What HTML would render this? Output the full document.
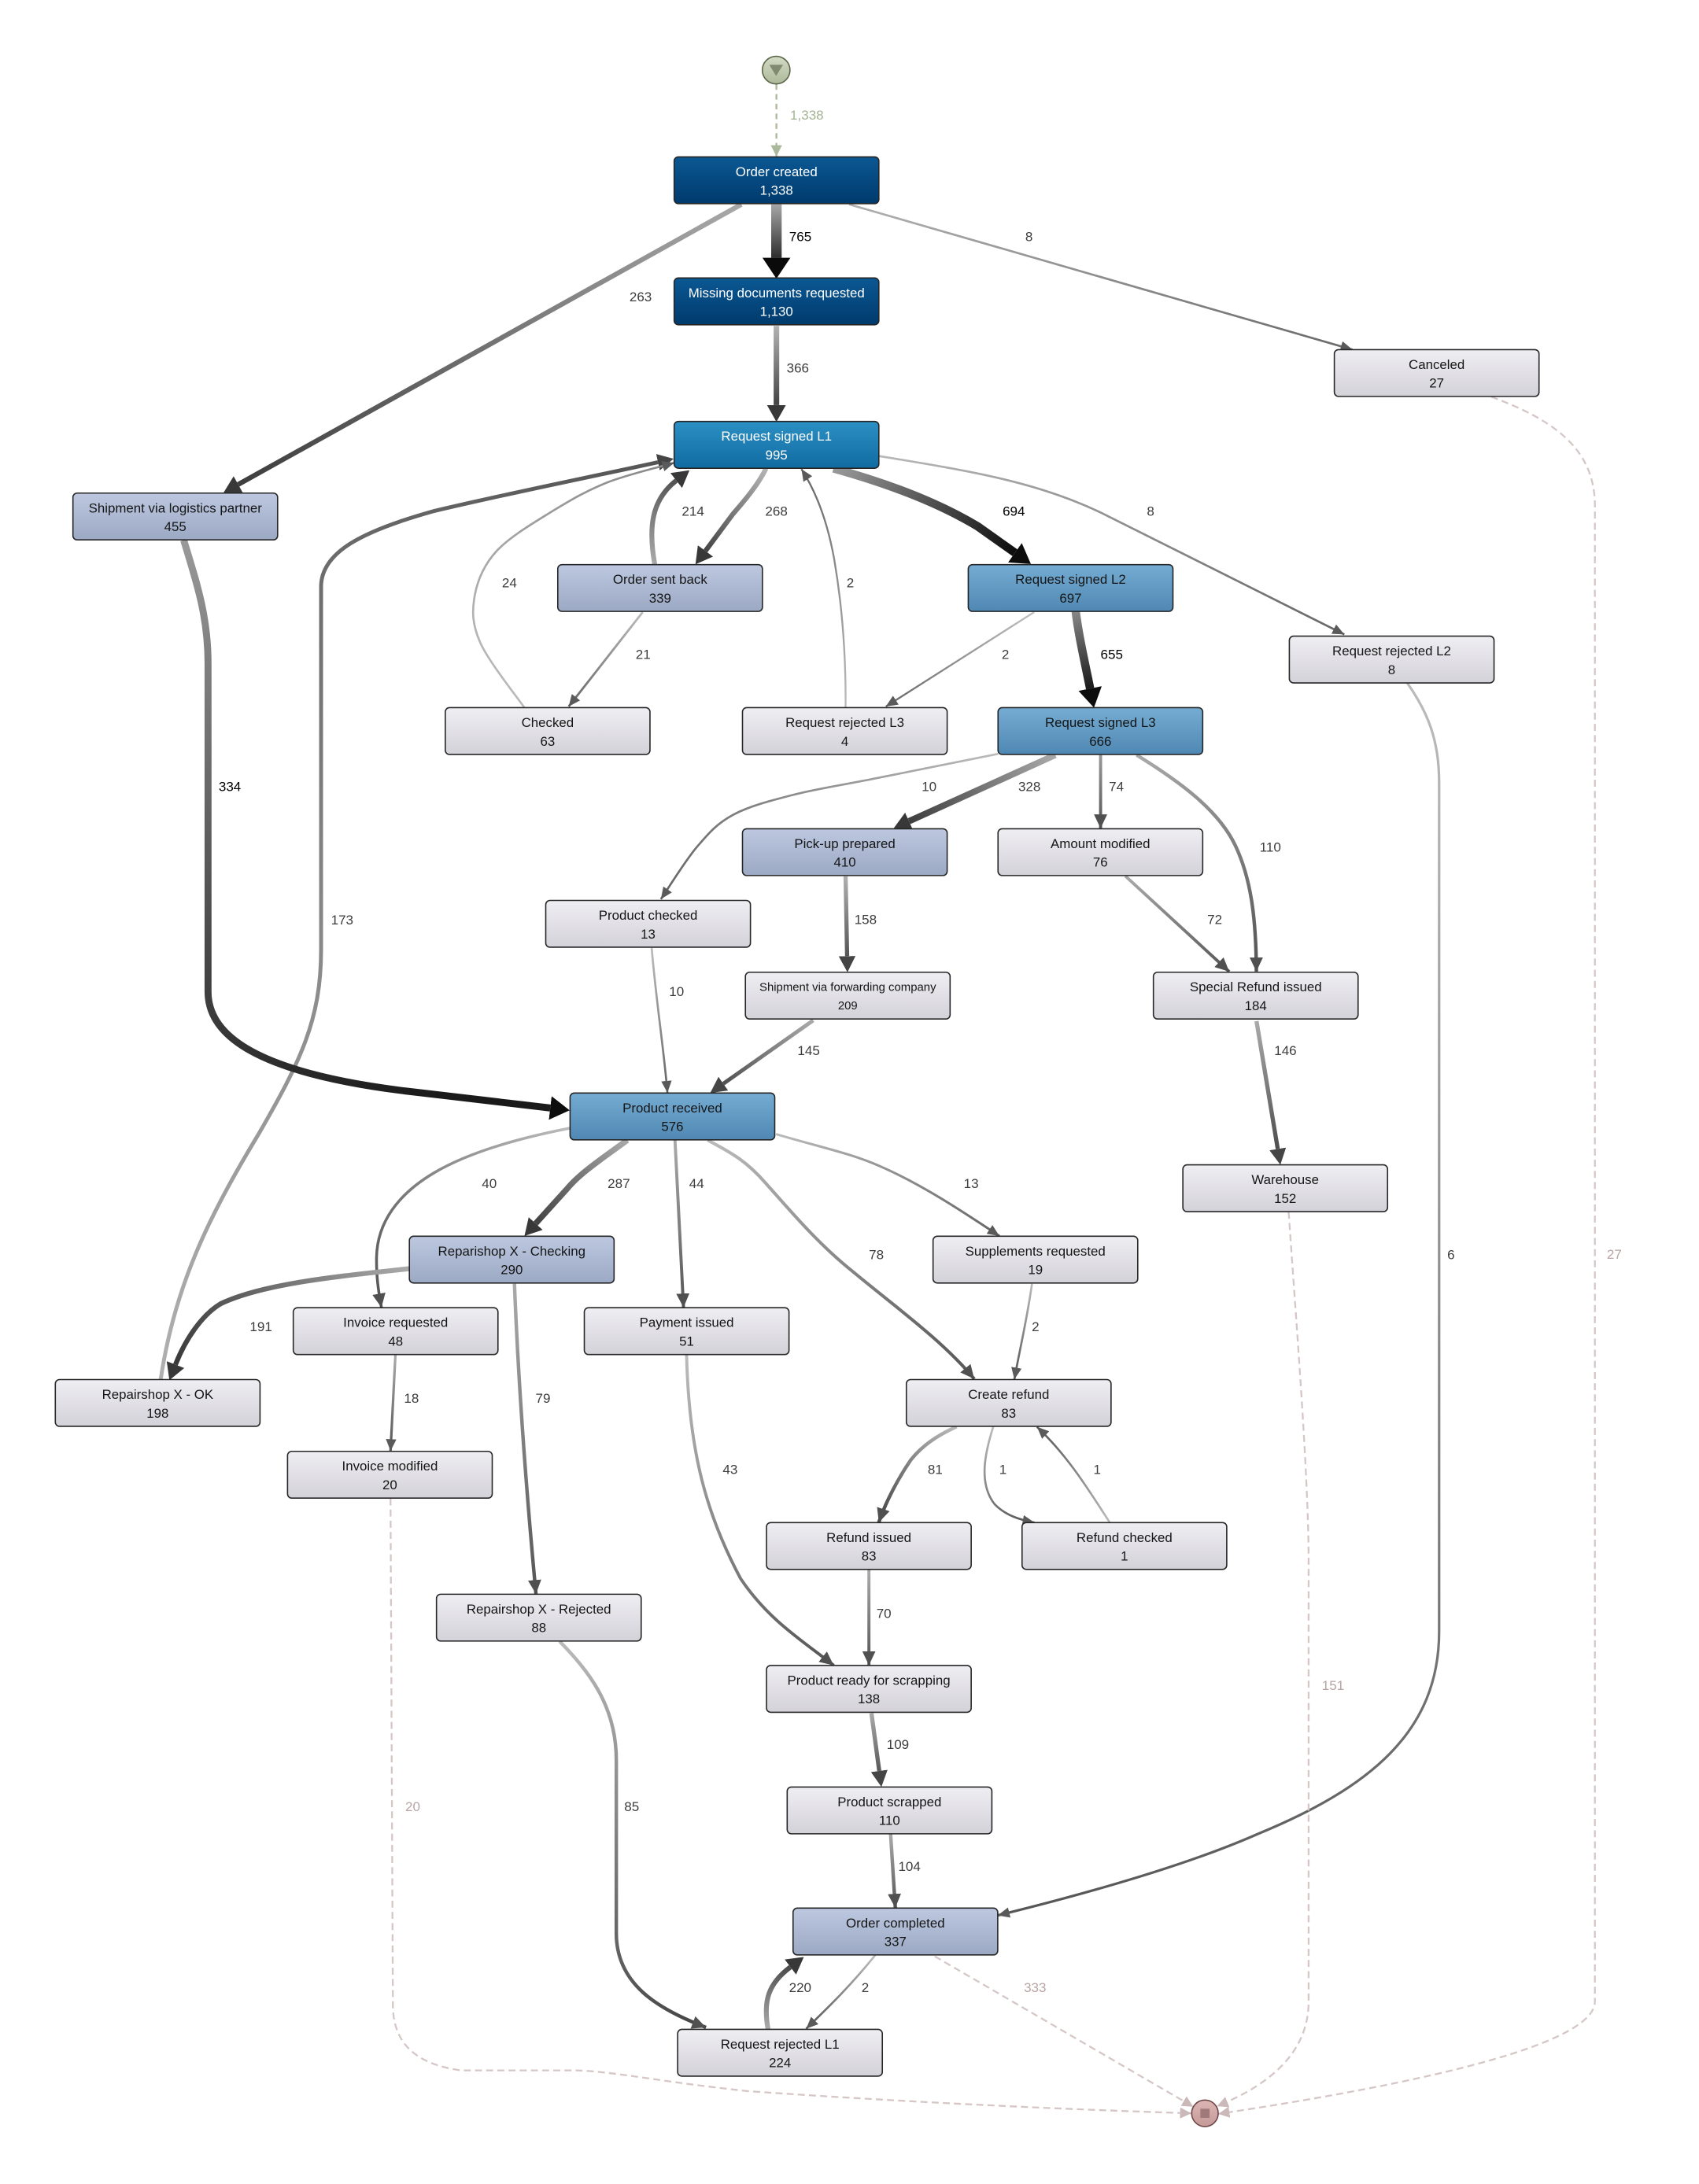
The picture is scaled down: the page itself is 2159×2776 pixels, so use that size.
<!DOCTYPE html>
<html><head><meta charset="utf-8"><style>
html,body{margin:0;padding:0;background:#fff;}
svg{display:block;}
text{font-family:"Liberation Sans",Arial,sans-serif;}
.nt{font-size:9.5px;text-anchor:middle;}
.el{font-size:9.6px;text-anchor:middle;fill:#3c3c3c;}
.bk{fill:#000;}
.pk{fill:#b8a4a4;}
</style></head><body>
<svg width="2159" height="2776" viewBox="0 0 1216 1563.5" preserveAspectRatio="none" xmlns="http://www.w3.org/2000/svg">
<defs>
<linearGradient id="nDark" x1="0" y1="0" x2="0" y2="1"><stop offset="0" stop-color="#0b5894"/><stop offset="1" stop-color="#003a6c"/></linearGradient>
<linearGradient id="nL1" x1="0" y1="0" x2="0" y2="1"><stop offset="0" stop-color="#2b90c4"/><stop offset="1" stop-color="#116ba1"/></linearGradient>
<linearGradient id="nMid" x1="0" y1="0" x2="0" y2="1"><stop offset="0" stop-color="#75acd3"/><stop offset="1" stop-color="#4f88b3"/></linearGradient>
<linearGradient id="nLight" x1="0" y1="0" x2="0" y2="1"><stop offset="0" stop-color="#bdc8e0"/><stop offset="1" stop-color="#9ca9c4"/></linearGradient>
<linearGradient id="nGray" x1="0" y1="0" x2="0" y2="1"><stop offset="0" stop-color="#efeef3"/><stop offset="1" stop-color="#d4d2d9"/></linearGradient>
<linearGradient id="startG" x1="0" y1="0" x2="0" y2="1"><stop offset="0" stop-color="#d3dbc4"/><stop offset="1" stop-color="#adb99a"/></linearGradient>
<linearGradient id="endG" x1="0" y1="0" x2="0" y2="1"><stop offset="0" stop-color="#dcb6b4"/><stop offset="1" stop-color="#c59a98"/></linearGradient>

<marker id="a1" viewBox="0 0 10 10" refX="10" refY="5" markerUnits="userSpaceOnUse" markerWidth="8.5" markerHeight="7.5" orient="auto" preserveAspectRatio="none"><path d="M0,0L10,5L0,10z" fill="#5a5a5a"/></marker>
<marker id="a2" viewBox="0 0 10 10" refX="10" refY="5" markerUnits="userSpaceOnUse" markerWidth="10" markerHeight="9.5" orient="auto" preserveAspectRatio="none"><path d="M0,0L10,5L0,10z" fill="#505050"/></marker>
<marker id="B2" viewBox="0 0 10 10" refX="0" refY="5" markerUnits="userSpaceOnUse" markerWidth="11.5" markerHeight="12" orient="auto" preserveAspectRatio="none"><path d="M0,0L10,5L0,10z" fill="#454545"/></marker>
<marker id="B3" viewBox="0 0 10 10" refX="0" refY="5" markerUnits="userSpaceOnUse" markerWidth="12" markerHeight="13.5" orient="auto" preserveAspectRatio="none"><path d="M0,0L10,5L0,10z" fill="#383838"/></marker>
<marker id="B4" viewBox="0 0 10 10" refX="0" refY="5" markerUnits="userSpaceOnUse" markerWidth="15" markerHeight="20" orient="auto" preserveAspectRatio="none"><path d="M0,0L10,5L0,10z" fill="#0a0a0a"/></marker>
<marker id="B4b" viewBox="0 0 10 10" refX="0" refY="5" markerUnits="userSpaceOnUse" markerWidth="14" markerHeight="17" orient="auto" preserveAspectRatio="none"><path d="M0,0L10,5L0,10z" fill="#0d0d0d"/></marker>
<marker id="ad" viewBox="0 0 10 10" refX="10" refY="5" markerUnits="userSpaceOnUse" markerWidth="8" markerHeight="8" orient="auto" preserveAspectRatio="none"><path d="M0,0L10,5L0,10z" fill="#cbb9b9"/></marker>
<marker id="ag" viewBox="0 0 10 10" refX="10" refY="5" markerUnits="userSpaceOnUse" markerWidth="8" markerHeight="8" orient="auto" preserveAspectRatio="none"><path d="M0,0L10,5L0,10z" fill="#a9b99a"/></marker>

<linearGradient id="g765" gradientUnits="userSpaceOnUse" x1="555.7" y1="146" x2="555.7" y2="199"><stop offset="0" stop-color="#a8a8a8"/><stop offset="1" stop-color="#000"/></linearGradient>
<linearGradient id="g366" gradientUnits="userSpaceOnUse" x1="555.7" y1="233" x2="555.7" y2="301"><stop offset="0" stop-color="#b3b3b3"/><stop offset="1" stop-color="#2e2e2e"/></linearGradient>
<linearGradient id="g263" gradientUnits="userSpaceOnUse" x1="530.6" y1="146" x2="160" y2="352.6"><stop offset="0" stop-color="#a8a8a8"/><stop offset="1" stop-color="#3a3a3a"/></linearGradient>
<linearGradient id="g8a" gradientUnits="userSpaceOnUse" x1="607.7" y1="146" x2="968" y2="250"><stop offset="0" stop-color="#b0b0b0"/><stop offset="1" stop-color="#6a6a6a"/></linearGradient>
<linearGradient id="g268" gradientUnits="userSpaceOnUse" x1="548" y1="335" x2="498" y2="404"><stop offset="0" stop-color="#b5b5b5"/><stop offset="1" stop-color="#333"/></linearGradient>
<linearGradient id="g214" gradientUnits="userSpaceOnUse" x1="468.6" y1="404" x2="493" y2="336"><stop offset="0" stop-color="#aaa"/><stop offset="1" stop-color="#444"/></linearGradient>
<linearGradient id="g694" gradientUnits="userSpaceOnUse" x1="596.5" y1="335" x2="737" y2="404"><stop offset="0" stop-color="#9a9a9a"/><stop offset="1" stop-color="#000"/></linearGradient>
<linearGradient id="g8b" gradientUnits="userSpaceOnUse" x1="629" y1="326" x2="962" y2="454"><stop offset="0" stop-color="#b8b8b8"/><stop offset="1" stop-color="#666"/></linearGradient>
<linearGradient id="g173" gradientUnits="userSpaceOnUse" x1="115" y1="987" x2="482" y2="328"><stop offset="0" stop-color="#b0b0b0"/><stop offset="1" stop-color="#555"/></linearGradient>
<linearGradient id="g24" gradientUnits="userSpaceOnUse" x1="375" y1="506" x2="482" y2="331"><stop offset="0" stop-color="#bbb"/><stop offset="1" stop-color="#888"/></linearGradient>
<linearGradient id="g2a" gradientUnits="userSpaceOnUse" x1="605" y1="506" x2="573" y2="336"><stop offset="0" stop-color="#bbb"/><stop offset="1" stop-color="#666"/></linearGradient>
<linearGradient id="g21" gradientUnits="userSpaceOnUse" x1="460" y1="438" x2="407" y2="506"><stop offset="0" stop-color="#bbb"/><stop offset="1" stop-color="#666"/></linearGradient>
<linearGradient id="g2b" gradientUnits="userSpaceOnUse" x1="740" y1="438" x2="634" y2="506"><stop offset="0" stop-color="#c0c0c0"/><stop offset="1" stop-color="#666"/></linearGradient>
<linearGradient id="g655" gradientUnits="userSpaceOnUse" x1="770" y1="437" x2="783" y2="506"><stop offset="0" stop-color="#888"/><stop offset="1" stop-color="#000"/></linearGradient>
<linearGradient id="g334" gradientUnits="userSpaceOnUse" x1="132" y1="387" x2="300" y2="790"><stop offset="0" stop-color="#999"/><stop offset="1" stop-color="#1a1a1a"/></linearGradient>
<linearGradient id="g10a" gradientUnits="userSpaceOnUse" x1="714" y1="540" x2="473" y2="644"><stop offset="0" stop-color="#bbb"/><stop offset="1" stop-color="#666"/></linearGradient>
<linearGradient id="g328" gradientUnits="userSpaceOnUse" x1="755" y1="540" x2="640" y2="593"><stop offset="0" stop-color="#aaa"/><stop offset="1" stop-color="#333"/></linearGradient>
<linearGradient id="g74" gradientUnits="userSpaceOnUse" x1="788" y1="540" x2="788" y2="593"><stop offset="0" stop-color="#999"/><stop offset="1" stop-color="#555"/></linearGradient>
<linearGradient id="g110" gradientUnits="userSpaceOnUse" x1="813" y1="540" x2="899" y2="696"><stop offset="0" stop-color="#aaa"/><stop offset="1" stop-color="#555"/></linearGradient>
<linearGradient id="g158" gradientUnits="userSpaceOnUse" x1="605" y1="627" x2="606" y2="696"><stop offset="0" stop-color="#b0b0b0"/><stop offset="1" stop-color="#444"/></linearGradient>
<linearGradient id="g72" gradientUnits="userSpaceOnUse" x1="805" y1="627" x2="880" y2="696"><stop offset="0" stop-color="#aaa"/><stop offset="1" stop-color="#555"/></linearGradient>
<linearGradient id="g10b" gradientUnits="userSpaceOnUse" x1="466" y1="679" x2="478" y2="782"><stop offset="0" stop-color="#bbb"/><stop offset="1" stop-color="#666"/></linearGradient>
<linearGradient id="g145" gradientUnits="userSpaceOnUse" x1="582" y1="730" x2="508" y2="782"><stop offset="0" stop-color="#aaa"/><stop offset="1" stop-color="#444"/></linearGradient>
<linearGradient id="g146" gradientUnits="userSpaceOnUse" x1="899" y1="731" x2="916" y2="834"><stop offset="0" stop-color="#aaa"/><stop offset="1" stop-color="#444"/></linearGradient>
<linearGradient id="g40" gradientUnits="userSpaceOnUse" x1="408" y1="808" x2="273" y2="936"><stop offset="0" stop-color="#bbb"/><stop offset="1" stop-color="#555"/></linearGradient>
<linearGradient id="g287" gradientUnits="userSpaceOnUse" x1="449" y1="816" x2="375" y2="885"><stop offset="0" stop-color="#aaa"/><stop offset="1" stop-color="#333"/></linearGradient>
<linearGradient id="g44" gradientUnits="userSpaceOnUse" x1="483" y1="816" x2="489" y2="936"><stop offset="0" stop-color="#aaa"/><stop offset="1" stop-color="#555"/></linearGradient>
<linearGradient id="g78" gradientUnits="userSpaceOnUse" x1="506" y1="816" x2="697" y2="987"><stop offset="0" stop-color="#bbb"/><stop offset="1" stop-color="#555"/></linearGradient>
<linearGradient id="g13" gradientUnits="userSpaceOnUse" x1="555" y1="812" x2="715" y2="885"><stop offset="0" stop-color="#bbb"/><stop offset="1" stop-color="#666"/></linearGradient>
<linearGradient id="g191" gradientUnits="userSpaceOnUse" x1="293" y1="908" x2="120" y2="988"><stop offset="0" stop-color="#aaa"/><stop offset="1" stop-color="#333"/></linearGradient>
<linearGradient id="g79" gradientUnits="userSpaceOnUse" x1="368" y1="919" x2="384" y2="1141"><stop offset="0" stop-color="#aaa"/><stop offset="1" stop-color="#555"/></linearGradient>
<linearGradient id="g18" gradientUnits="userSpaceOnUse" x1="283" y1="970" x2="280" y2="1039"><stop offset="0" stop-color="#aaa"/><stop offset="1" stop-color="#555"/></linearGradient>
<linearGradient id="g43" gradientUnits="userSpaceOnUse" x1="491" y1="970" x2="597" y2="1192"><stop offset="0" stop-color="#bbb"/><stop offset="1" stop-color="#555"/></linearGradient>
<linearGradient id="g2c" gradientUnits="userSpaceOnUse" x1="739" y1="919" x2="726" y2="988"><stop offset="0" stop-color="#bbb"/><stop offset="1" stop-color="#555"/></linearGradient>
<linearGradient id="g81" gradientUnits="userSpaceOnUse" x1="685" y1="1021" x2="629" y2="1090"><stop offset="0" stop-color="#bbb"/><stop offset="1" stop-color="#444"/></linearGradient>
<linearGradient id="g1a" gradientUnits="userSpaceOnUse" x1="711" y1="1021" x2="740" y2="1090"><stop offset="0" stop-color="#bbb"/><stop offset="1" stop-color="#555"/></linearGradient>
<linearGradient id="g1b" gradientUnits="userSpaceOnUse" x1="794" y1="1090" x2="742" y2="1021"><stop offset="0" stop-color="#bbb"/><stop offset="1" stop-color="#555"/></linearGradient>
<linearGradient id="g70" gradientUnits="userSpaceOnUse" x1="622" y1="1124" x2="622" y2="1192"><stop offset="0" stop-color="#aaa"/><stop offset="1" stop-color="#555"/></linearGradient>
<linearGradient id="g109" gradientUnits="userSpaceOnUse" x1="624" y1="1226" x2="631" y2="1279"><stop offset="0" stop-color="#aaa"/><stop offset="1" stop-color="#444"/></linearGradient>
<linearGradient id="g104" gradientUnits="userSpaceOnUse" x1="637" y1="1313" x2="641" y2="1366"><stop offset="0" stop-color="#aaa"/><stop offset="1" stop-color="#555"/></linearGradient>
<linearGradient id="g6" gradientUnits="userSpaceOnUse" x1="1007" y1="489" x2="714" y2="1371"><stop offset="0" stop-color="#bbb"/><stop offset="1" stop-color="#555"/></linearGradient>
<linearGradient id="g2d" gradientUnits="userSpaceOnUse" x1="626" y1="1400" x2="577" y2="1452"><stop offset="0" stop-color="#bbb"/><stop offset="1" stop-color="#555"/></linearGradient>
<linearGradient id="g220" gradientUnits="userSpaceOnUse" x1="550" y1="1453" x2="574" y2="1400"><stop offset="0" stop-color="#aaa"/><stop offset="1" stop-color="#333"/></linearGradient>
<linearGradient id="g85" gradientUnits="userSpaceOnUse" x1="400" y1="1175" x2="505" y2="1452"><stop offset="0" stop-color="#bbb"/><stop offset="1" stop-color="#444"/></linearGradient>
</defs>

<rect x="0" y="0" width="1216" height="1563.5" fill="#fff"/>

<!-- EDGES -->
<g fill="none" stroke-linejoin="round">
<path d="M555.7,60.3 L555.7,112" stroke="#a9b99a" stroke-width="1.3" stroke-dasharray="4 3" marker-end="url(#ag)"/>
<path d="M555.7,146.3 L555.7,184.5" stroke="url(#g765)" stroke-width="7.5" marker-end="url(#B4)"/>
<path d="M555.7,233.3 L555.7,290" stroke="url(#g366)" stroke-width="4" marker-end="url(#B3)"/>
<path d="M530.6,146.3 L170.5,346.8" stroke="url(#g263)" stroke-width="3.5" marker-end="url(#B3)"/>
<path d="M607.7,146.3 L968,250.3" stroke="url(#g8a)" stroke-width="1.5" marker-end="url(#a1)"/>
<path d="M548.3,335.3 C543,346 535,356 524.7,367.8 L504.9,394.4" stroke="url(#g268)" stroke-width="3.5" marker-end="url(#B3)"/>
<path d="M468.6,404 C464,378 466,358 484,344" stroke="url(#g214)" stroke-width="3.5" marker-end="url(#B3)"/>
<path d="M596.5,335.3 C635,346 672,360 700,377 L726.4,395.7" stroke="url(#g694)" stroke-width="6" marker-end="url(#B4b)"/>
<path d="M629.2,326.5 C700,338 745,346 790,368 L962.2,454.2" stroke="url(#g8b)" stroke-width="1.5" marker-end="url(#a1)"/>
<path d="M115,987.6 C125,920 150,870 185,812 C215,760 229.8,730 229.8,680 L229.8,420 C229.8,395 260,380 310,366 C360,354 420,342 470.9,330.9" stroke="url(#g173)" stroke-width="2.8" marker-end="url(#B2)"/>
<path d="M375.3,506.6 C370,498.8 349.6,473.4 343.7,460 C337.8,446.6 337.8,437.2 339.8,426.2 C341.8,415.3 346.4,404.3 355.6,394.3 C364.8,384.3 381.9,374.3 395.1,366.1 C408.3,358 420,351.2 434.6,345.4 C449.2,339.6 474.5,333.7 482.5,331.3" stroke="url(#g24)" stroke-width="1.5" marker-end="url(#a1)"/>
<path d="M605.2,506.6 C605.5,470 603,435 597,400 C593,378 586,355 573.6,335.8" stroke="url(#g2a)" stroke-width="1.3" marker-end="url(#a1)"/>
<path d="M460,438.2 L407,505.8" stroke="url(#g21)" stroke-width="1.6" marker-end="url(#a1)"/>
<path d="M740.2,438.2 L634,505.8" stroke="url(#g2b)" stroke-width="1.3" marker-end="url(#a1)"/>
<path d="M769.9,437.7 C772,455 776,472 780.2,492.9" stroke="url(#g655)" stroke-width="6" marker-end="url(#B4b)"/>
<path d="M131.5,386.7 C140,415 148.9,440 148.9,475 L148.9,710 C148.9,742 185,768 290,781 L393.8,793.2" stroke="url(#g334)" stroke-width="5" marker-end="url(#B4b)"/>
<path d="M714.4,539.7 C699.6,542.7 649.7,552.6 625.3,557.5 C600.9,562.4 584.6,564.7 567.8,569 C551,573.3 536.2,577.1 524.7,583.3 C513.2,589.5 507.4,596.2 498.8,606.3 C490.2,616.4 477.3,637.5 473,643.7" stroke="url(#g10a)" stroke-width="1.5" marker-end="url(#a1)"/>
<path d="M755.3,540.5 L650.6,587.9" stroke="url(#g328)" stroke-width="4.5" marker-end="url(#B3)"/>
<path d="M787.7,540.5 L787.7,593" stroke="url(#g74)" stroke-width="2.2" marker-end="url(#a2)"/>
<path d="M813.5,540.5 C845,560 872,580 884,605 C896,630 899,660 899.2,695.5" stroke="url(#g110)" stroke-width="2.5" marker-end="url(#a2)"/>
<path d="M605.2,627.3 L606.3,684.5" stroke="url(#g158)" stroke-width="3" marker-end="url(#B2)"/>
<path d="M805.4,627.1 L879.8,695.6" stroke="url(#g72)" stroke-width="2.2" marker-end="url(#a2)"/>
<path d="M466.4,678.7 C470,720 475,750 477.7,782.3" stroke="url(#g10b)" stroke-width="1.5" marker-end="url(#a1)"/>
<path d="M582,730.5 L517.7,775.8" stroke="url(#g145)" stroke-width="2.8" marker-end="url(#B2)"/>
<path d="M899.3,731 L914.5,822.5" stroke="url(#g146)" stroke-width="3" marker-end="url(#B2)"/>
<path d="M408.1,807.6 C370,815 335,825 310,840 C285,855 270,875 269.5,900 C269.3,915 271,925 273,936" stroke="url(#g40)" stroke-width="2" marker-end="url(#a2)"/>
<path d="M449,816.2 C430,830 415,840 405.9,851 L383.4,875.9" stroke="url(#g287)" stroke-width="4.2" marker-end="url(#B3)"/>
<path d="M483.1,816.2 C485,860 487.5,900 489.2,936" stroke="url(#g44)" stroke-width="2.2" marker-end="url(#a2)"/>
<path d="M506.5,816.2 C525,826 535,832 548,847 C565,866 585,890 610,910 C640,935 675,960 697.3,987.2" stroke="url(#g78)" stroke-width="2.3" marker-end="url(#a2)"/>
<path d="M555.4,811.9 C590,822 610,826 630,835 C660,848 690,868 715.3,884.8" stroke="url(#g13)" stroke-width="1.7" marker-end="url(#a1)"/>
<path d="M293.1,908.2 C250,913 190,918 158,933.3 C145,941 133,958 125.6,976.9" stroke="url(#g191)" stroke-width="3.5" marker-end="url(#B3)"/>
<path d="M368.2,919 C371,990 376,1060 383.6,1141.1" stroke="url(#g79)" stroke-width="2.5" marker-end="url(#a2)"/>
<path d="M283,970 L279.5,1038.8" stroke="url(#g18)" stroke-width="1.8" marker-end="url(#a1)"/>
<path d="M491.4,970 C493,1040 506,1085 530,1130 C550,1160 575,1175 596.7,1192.2" stroke="url(#g43)" stroke-width="2.2" marker-end="url(#a2)"/>
<path d="M738.6,919 C735,945 730,965 726,987.5" stroke="url(#g2c)" stroke-width="1.5" marker-end="url(#a1)"/>
<path d="M684.7,1021.3 C670,1028 660,1035 652,1045 C643,1058 634,1075 629,1089.8" stroke="url(#g81)" stroke-width="2.5" marker-end="url(#a2)"/>
<path d="M710.9,1021.3 C705,1040 700,1062 712,1077 C720,1085 730,1088 740.4,1090" stroke="url(#g1a)" stroke-width="1.5" marker-end="url(#a1)"/>
<path d="M794.3,1090 C780,1068 765,1043 742.2,1021.5" stroke="url(#g1b)" stroke-width="1.5" marker-end="url(#a1)"/>
<path d="M621.9,1123.7 L621.9,1192.1" stroke="url(#g70)" stroke-width="2.2" marker-end="url(#a2)"/>
<path d="M623.7,1226.5 L629.3,1267.8" stroke="url(#g109)" stroke-width="3" marker-end="url(#B2)"/>
<path d="M637.4,1312.8 L640.8,1365.8" stroke="url(#g104)" stroke-width="2.5" marker-end="url(#a2)"/>
<path d="M1007.1,488.8 C1022,510 1030,530 1030,560 L1030,1168 C1030,1240 980,1280 900,1313 C850,1335 780,1355 714.1,1371.2" stroke="url(#g6)" stroke-width="1.8" marker-end="url(#a1)"/>
<path d="M626.4,1399.7 C610,1420 595,1435 577,1452.3" stroke="url(#g2d)" stroke-width="1.5" marker-end="url(#a1)"/>
<path d="M549.7,1452.8 C546,1432 550,1420 565.7,1408.2" stroke="url(#g220)" stroke-width="3.5" marker-end="url(#B3)"/>
<path d="M400.5,1175 C420,1195 441.1,1220 441.1,1260 L441.1,1384 C441.1,1420 470,1438 505.3,1451.4" stroke="url(#g85)" stroke-width="2.5" marker-end="url(#a2)"/>
<!-- dashed to end -->
<g stroke="#d6c7c7" stroke-width="1.3" stroke-dasharray="5 3">
<path d="M279.5,1072.7 L281.2,1437 C282,1465 300,1478 330,1482.2 L412.7,1482.2 C440,1483 470,1490 535,1497 C650,1505 760,1510 852.6,1512.9" marker-end="url(#ad)"/>
<path d="M922.3,867.6 C928,950 936,1050 936.6,1113 L936.6,1432.9 C936.6,1465 915,1490 871,1507.8" marker-end="url(#ad)"/>
<path d="M1067.3,284 C1110,300 1141.5,320 1141.5,362 L1141.5,1432.9 C1141.5,1470 960,1500 872,1513.3" marker-end="url(#ad)"/>
<path d="M669,1400.5 L854.1,1508.2" marker-end="url(#ad)"/>
</g>
</g>

<!-- START / END -->
<circle cx="555.5" cy="50.2" r="9.9" fill="url(#startG)" stroke="#5a6648" stroke-width="0.9"/>
<path d="M550.6,46.4 L560.4,46.4 L555.5,54.4 z" fill="#7f8a6e"/>
<circle cx="862.4" cy="1512.9" r="9.5" fill="url(#endG)" stroke="#6e4747" stroke-width="0.9"/>
<rect x="859.1" y="1509.6" width="6.6" height="6.6" fill="#a07a7a"/>

<!-- NODES -->
<g stroke="#262626" stroke-width="0.9">
<rect x="482.5" y="112.3" width="146.5" height="33.5" rx="3" fill="url(#nDark)"/>
<rect x="482.5" y="199" width="146.5" height="33.5" rx="3" fill="url(#nDark)"/>
<rect x="955" y="250.3" width="146.5" height="33.5" rx="3" fill="url(#nGray)"/>
<rect x="482.5" y="301.7" width="146.5" height="33.5" rx="3" fill="url(#nL1)"/>
<rect x="52.2" y="353" width="146.5" height="33.5" rx="3" fill="url(#nLight)"/>
<rect x="399.2" y="404.2" width="146.5" height="33.5" rx="3" fill="url(#nLight)"/>
<rect x="693" y="404.2" width="146.5" height="33.5" rx="3" fill="url(#nMid)"/>
<rect x="922.8" y="455.4" width="146.5" height="33.5" rx="3" fill="url(#nGray)"/>
<rect x="318.7" y="506.6" width="146.5" height="33.5" rx="3" fill="url(#nGray)"/>
<rect x="531.4" y="506.6" width="146.5" height="33.5" rx="3" fill="url(#nGray)"/>
<rect x="714.3" y="506.6" width="146.5" height="33.5" rx="3" fill="url(#nMid)"/>
<rect x="531.4" y="593.3" width="146.5" height="33.5" rx="3" fill="url(#nLight)"/>
<rect x="714.3" y="593.3" width="146.5" height="33.5" rx="3" fill="url(#nGray)"/>
<rect x="390.6" y="644.6" width="146.5" height="33.5" rx="3" fill="url(#nGray)"/>
<rect x="533.5" y="696" width="146.5" height="33.5" rx="3" fill="url(#nGray)"/>
<rect x="825.5" y="696" width="146.5" height="33.5" rx="3" fill="url(#nGray)"/>
<rect x="408" y="782.5" width="146.5" height="33.5" rx="3" fill="url(#nMid)"/>
<rect x="846.6" y="833.9" width="146.5" height="33.5" rx="3" fill="url(#nGray)"/>
<rect x="293" y="885" width="146.5" height="33.5" rx="3" fill="url(#nLight)"/>
<rect x="667.8" y="885" width="146.5" height="33.5" rx="3" fill="url(#nGray)"/>
<rect x="209.9" y="936.2" width="146.5" height="33.5" rx="3" fill="url(#nGray)"/>
<rect x="418.2" y="936.2" width="146.5" height="33.5" rx="3" fill="url(#nGray)"/>
<rect x="39.6" y="987.6" width="146.5" height="33.5" rx="3" fill="url(#nGray)"/>
<rect x="648.7" y="987.6" width="146.5" height="33.5" rx="3" fill="url(#nGray)"/>
<rect x="205.8" y="1039" width="146.5" height="33.5" rx="3" fill="url(#nGray)"/>
<rect x="548.6" y="1090" width="146.5" height="33.5" rx="3" fill="url(#nGray)"/>
<rect x="731.5" y="1090" width="146.5" height="33.5" rx="3" fill="url(#nGray)"/>
<rect x="312.4" y="1141.3" width="146.5" height="33.5" rx="3" fill="url(#nGray)"/>
<rect x="548.6" y="1192.3" width="146.5" height="33.5" rx="3" fill="url(#nGray)"/>
<rect x="563.4" y="1279.3" width="146.5" height="33.5" rx="3" fill="url(#nGray)"/>
<rect x="567.6" y="1366" width="146.5" height="33.5" rx="3" fill="url(#nLight)"/>
<rect x="485" y="1452.8" width="146.5" height="33.5" rx="3" fill="url(#nGray)"/>
</g>

<!-- NODE TEXT -->
<g class="nt" fill="#ffffff">
<text x="555.75" y="126.1">Order created</text><text x="555.75" y="139.5">1,338</text>
<text x="555.75" y="212.8">Missing documents requested</text><text x="555.75" y="226.2">1,130</text>
<text x="555.75" y="315.5">Request signed L1</text><text x="555.75" y="328.9">995</text>
</g>
<g class="nt" fill="#151515">
<text x="1028.25" y="264.1">Canceled</text><text x="1028.25" y="277.5">27</text>
<text x="125.45" y="366.8">Shipment via logistics partner</text><text x="125.45" y="380.2">455</text>
<text x="472.45" y="418">Order sent back</text><text x="472.45" y="431.4">339</text>
<text x="766.25" y="418">Request signed L2</text><text x="766.25" y="431.4">697</text>
<text x="996.05" y="469.2">Request rejected L2</text><text x="996.05" y="482.6">8</text>
<text x="391.95" y="520.4">Checked</text><text x="391.95" y="533.8">63</text>
<text x="604.65" y="520.4">Request rejected L3</text><text x="604.65" y="533.8">4</text>
<text x="787.55" y="520.4">Request signed L3</text><text x="787.55" y="533.8">666</text>
<text x="604.65" y="607.1">Pick-up prepared</text><text x="604.65" y="620.5">410</text>
<text x="787.55" y="607.1">Amount modified</text><text x="787.55" y="620.5">76</text>
<text x="463.85" y="658.4">Product checked</text><text x="463.85" y="671.8">13</text>
<text x="606.75" y="709.5" style="font-size:8.4px">Shipment via forwarding company</text><text x="606.75" y="722.7" style="font-size:8.4px">209</text>
<text x="898.75" y="709.8">Special Refund issued</text><text x="898.75" y="723.2">184</text>
<text x="481.25" y="796.3">Product received</text><text x="481.25" y="809.7">576</text>
<text x="919.85" y="847.7">Warehouse</text><text x="919.85" y="861.1">152</text>
<text x="366.25" y="898.8">Reparishop X - Checking</text><text x="366.25" y="912.2">290</text>
<text x="741.05" y="898.8">Supplements requested</text><text x="741.05" y="912.2">19</text>
<text x="283.15" y="950">Invoice requested</text><text x="283.15" y="963.4">48</text>
<text x="491.45" y="950">Payment issued</text><text x="491.45" y="963.4">51</text>
<text x="112.85" y="1001.4">Repairshop X - OK</text><text x="112.85" y="1014.8">198</text>
<text x="721.95" y="1001.4">Create refund</text><text x="721.95" y="1014.8">83</text>
<text x="279.05" y="1052.8">Invoice modified</text><text x="279.05" y="1066.2">20</text>
<text x="621.85" y="1103.8">Refund issued</text><text x="621.85" y="1117.2">83</text>
<text x="804.75" y="1103.8">Refund checked</text><text x="804.75" y="1117.2">1</text>
<text x="385.65" y="1155.1">Repairshop X - Rejected</text><text x="385.65" y="1168.5">88</text>
<text x="621.85" y="1206.1">Product ready for scrapping</text><text x="621.85" y="1219.5">138</text>
<text x="636.65" y="1293.1">Product scrapped</text><text x="636.65" y="1306.5">110</text>
<text x="640.85" y="1379.8">Order completed</text><text x="640.85" y="1393.2">337</text>
<text x="558.25" y="1466.6">Request rejected L1</text><text x="558.25" y="1480">224</text>
</g>

<!-- EDGE LABELS -->
<g>
<text class="el" x="577.5" y="85.5" style="fill:#a3b392">1,338</text>
<text class="el bk" x="572.8" y="172.6">765</text>
<text class="el" x="736.5" y="172.6">8</text>
<text class="el" x="458.5" y="215.7">263</text>
<text class="el" x="571" y="266.8">366</text>
<text class="el" x="496" y="369.2">214</text>
<text class="el" x="555.7" y="369.2">268</text>
<text class="el bk" x="725.6" y="369.2">694</text>
<text class="el" x="823.5" y="369.2">8</text>
<text class="el" x="364.6" y="420.4">24</text>
<text class="el" x="608.6" y="420.4">2</text>
<text class="el" x="460.3" y="471.8">21</text>
<text class="el" x="719.6" y="471.8">2</text>
<text class="el bk" x="795.7" y="471.8">655</text>
<text class="el bk" x="164.5" y="566.4">334</text>
<text class="el" x="665" y="566.4">10</text>
<text class="el" x="736.8" y="566.4">328</text>
<text class="el" x="799" y="566.4">74</text>
<text class="el" x="909.2" y="609.8">110</text>
<text class="el" x="244.9" y="661.7">173</text>
<text class="el" x="619.5" y="661.4">158</text>
<text class="el" x="869.4" y="661.5">72</text>
<text class="el" x="484.2" y="712.9">10</text>
<text class="el" x="578.8" y="755.3">145</text>
<text class="el" x="920" y="755.3">146</text>
<text class="el" x="350.2" y="850.5">40</text>
<text class="el" x="442.9" y="850.4">287</text>
<text class="el" x="498.6" y="850.5">44</text>
<text class="el" x="695.1" y="850.5">13</text>
<text class="el" x="627.2" y="901.5">78</text>
<text class="el" x="1038.5" y="901.5">6</text>
<text class="el pk" x="1155.4" y="901.2">27</text>
<text class="el" x="186.8" y="952.9">191</text>
<text class="el" x="741.1" y="952.9">2</text>
<text class="el" x="294.5" y="1004.3">18</text>
<text class="el" x="388.6" y="1004.3">79</text>
<text class="el" x="522.6" y="1055.3">43</text>
<text class="el" x="669.3" y="1055.3">81</text>
<text class="el" x="717.8" y="1055.3">1</text>
<text class="el" x="785.3" y="1055.3">1</text>
<text class="el" x="632.6" y="1158.4">70</text>
<text class="el pk" x="954.1" y="1209.7">151</text>
<text class="el" x="642.6" y="1252.1">109</text>
<text class="el pk" x="295.4" y="1296.6">20</text>
<text class="el" x="452.1" y="1296.6">85</text>
<text class="el" x="650.9" y="1339.3">104</text>
<text class="el" x="572.7" y="1426.1">220</text>
<text class="el" x="619.3" y="1426.1">2</text>
<text class="el pk" x="740.8" y="1426.1">333</text>
</g>
</svg>
</body></html>
